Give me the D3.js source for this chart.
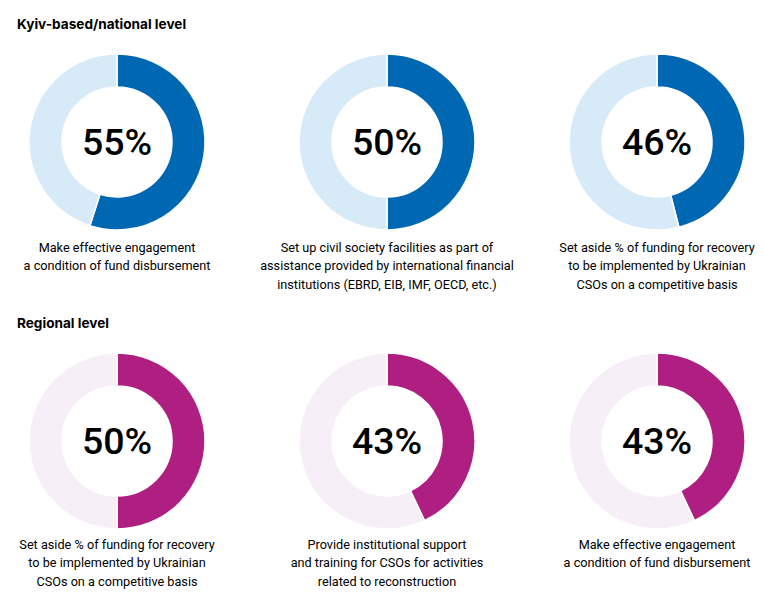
<!DOCTYPE html>
<html><head><meta charset="utf-8">
<script src="https://cdn.jsdelivr.net/npm/d3@7"></script>
<style>
html,body{margin:0;padding:0;background:#fff;}
svg{display:block;}
</style></head>
<body><svg id="chart" width="764" height="605"></svg>
<script>
const sectionTitles = ["Kyiv-based/national level", "Regional level"];
const nationalValues = [55, 50, 46];
const nationalLabels = [
  ["Make effective engagement", "a condition of fund disbursement"],
  ["Set up civil society facilities as part of", "assistance provided by international financial", "institutions (EBRD, EIB, IMF, OECD, etc.)"],
  ["Set aside % of funding for recovery", "to be implemented by Ukrainian", "CSOs on a competitive basis"]
];
const regionalValues = [50, 43, 43];
const regionalLabels = [
  ["Set aside % of funding for recovery", "to be implemented by Ukrainian", "CSOs on a competitive basis"],
  ["Provide institutional support", "and training for CSOs for activities", "related to reconstruction"],
  ["Make effective engagement", "a condition of fund disbursement"]
];
const palettes = [
  {main: "#0068b2", rest: "#d6eaf8"},
  {main: "#ae1f81", rest: "#f7eff7"}
];

const svg = d3.select("#chart");
const colX = d3.scalePoint().domain([0,1,2]).range([117, 657]);
const rowY = [142, 441];
const titleY = [29, 328];
const labelOffset = [110, 108];
const outerR = 88, innerR = 55;

const pie = d3.pie().sort(null).value(d => d);
const arc = d3.arc().innerRadius(innerR).outerRadius(outerR);

const rows = [
  {values: nationalValues, labels: nationalLabels},
  {values: regionalValues, labels: regionalLabels}
];

rows.forEach((row, ri) => {
  svg.append("text")
    .attr("x", 17).attr("y", titleY[ri])
    .attr("font-family", "Inter, sans-serif")
    .attr("font-weight", 700)
    .attr("font-size", 13.6)
    .attr("fill", "#000")
    .text(sectionTitles[ri]);

  row.values.forEach((v, ci) => {
    const g = svg.append("g").attr("transform", `translate(${colX(ci)},${rowY[ri]})`);
    g.selectAll("path").data(pie([v, 100 - v])).enter().append("path")
      .attr("d", arc)
      .attr("fill", (d, i) => i === 0 ? palettes[ri].main : palettes[ri].rest)
      .attr("stroke", "#fff").attr("stroke-width", 1.5);
    g.append("text")
      .attr("text-anchor", "middle")
      .attr("y", 13)
      .attr("font-family", "Roboto, sans-serif")
      .attr("font-weight", 500)
      .attr("font-size", 37.5)
      .attr("fill", "#000")
      .text(v + "%");
    const t = svg.append("text")
      .attr("text-anchor", "middle")
      .attr("font-family", "Roboto, sans-serif")
      .attr("font-size", 12.7)
      .attr("fill", "#000");
    row.labels[ci].forEach((line, li) => {
      t.append("tspan").attr("x", colX(ci)).attr("y", rowY[ri] + labelOffset[ri] + li * 18.3).text(line);
    });
  });
});
</script></body></html>
